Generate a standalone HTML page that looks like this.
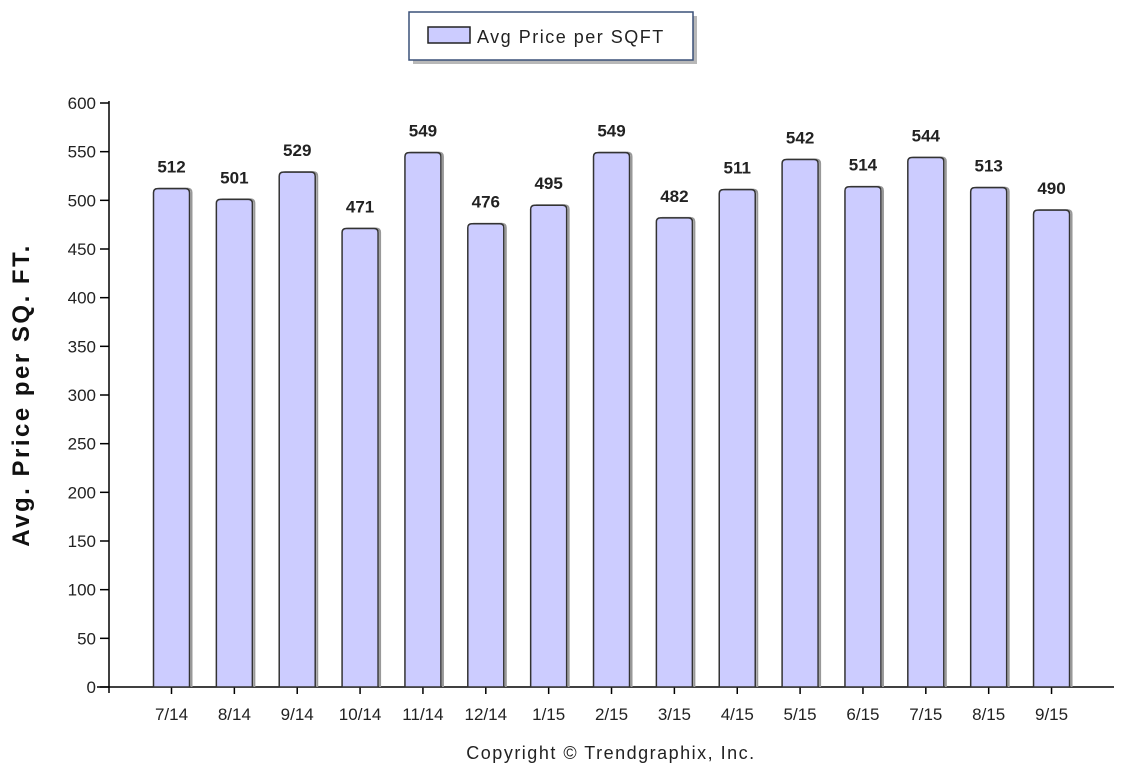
<!DOCTYPE html>
<html><head><meta charset="utf-8"><style>
body{margin:0;background:#fff;}
svg text{font-family:"Liberation Sans",Arial,sans-serif;}
</style></head><body>
<svg width="1142" height="774" viewBox="0 0 1142 774" xmlns="http://www.w3.org/2000/svg">
<g>
<rect x="413" y="16" width="284" height="48" fill="#888" opacity="0.6"/>
<rect x="409" y="12" width="284" height="48" fill="#fff" stroke="#3a5078" stroke-width="1.5"/>
<rect x="428" y="27" width="42" height="16" fill="#ccccff" stroke="#222" stroke-width="1.5"/>
<text x="477" y="43" font-size="18" letter-spacing="1.5" fill="#222">Avg Price per SQFT</text>
</g>
<text transform="translate(29,395) rotate(-90)" text-anchor="middle" font-size="24" letter-spacing="2.5" font-weight="bold" fill="#111">Avg. Price per SQ. FT.</text>
<g id="yaxis"></g>
<g id="xaxis"></g>
<g id="bars"></g>
<text x="611" y="759" text-anchor="middle" font-size="18" letter-spacing="1.5" fill="#222">Copyright © Trendgraphix, Inc.</text>
</svg>
<script>
const categories=["7/14","8/14","9/14","10/14","11/14","12/14","1/15","2/15","3/15","4/15","5/15","6/15","7/15","8/15","9/15"];
const values=[512,501,529,471,549,476,495,549,482,511,542,514,544,513,490];
const yTicks=[0,50,100,150,200,250,300,350,400,450,500,550,600];
const NS="http://www.w3.org/2000/svg";
const y0=687,yTop=103,yMax=600,axX=109;
function yS(v){return y0-(v/yMax)*(y0-yTop);}
const x0=171.5,step=62.86;
function xS(i){return x0+i*step;}
function mk(t,a,p){const e=document.createElementNS(NS,t);for(const k in a)e.setAttribute(k,a[k]);p.appendChild(e);return e;}
const ya=document.getElementById('yaxis'),xa=document.getElementById('xaxis'),bg=document.getElementById('bars');
mk('line',{x1:axX,y1:yTop-2,x2:axX,y2:y0+6,stroke:'#000','stroke-width':1.5},ya);
yTicks.forEach(v=>{
 const y=yS(v);
 const l=mk('line',{x1:axX-9,y1:y,x2:axX,y2:y,stroke:'#000','stroke-width':1.5},ya);
 
 
 const t=mk('text',{x:axX-13,y:y+6,'text-anchor':'end','font-size':17,fill:'#222'},ya);
 t.textContent=v;
 
 
});
mk('line',{x1:97,y1:y0,x2:1114,y2:y0,stroke:'#000','stroke-width':1.5},xa);
categories.forEach((c,i)=>{
 const x=xS(i);
 mk('line',{x1:x,y1:y0,x2:x,y2:y0+7,stroke:'#000','stroke-width':1.5},xa);
 const t=mk('text',{x:x,y:y0+33,'text-anchor':'middle','font-size':17,fill:'#222'},xa);
 t.textContent=c;
 
 
});
values.forEach((v,i)=>{
 const x=xS(i),w=36,y=yS(v),r=4;
 const d=`M${x-w/2},${y0} L${x-w/2},${y+r} Q${x-w/2},${y} ${x-w/2+r},${y} L${x+w/2-r},${y} Q${x+w/2},${y} ${x+w/2},${y+r} L${x+w/2},${y0}`;
 mk('path',{d:d,transform:'translate(2,0)',fill:'none',stroke:'#999','stroke-width':2},bg);
 const b=mk('path',{d:d+'Z',fill:'#ccccff',stroke:'#333','stroke-width':1.5},bg);
 
 
 const t=mk('text',{x:x,y:y-16,'text-anchor':'middle','font-size':17,'font-weight':'bold',fill:'#222'},bg);
 t.textContent=v;
 
 
});
</script>
</body></html>
